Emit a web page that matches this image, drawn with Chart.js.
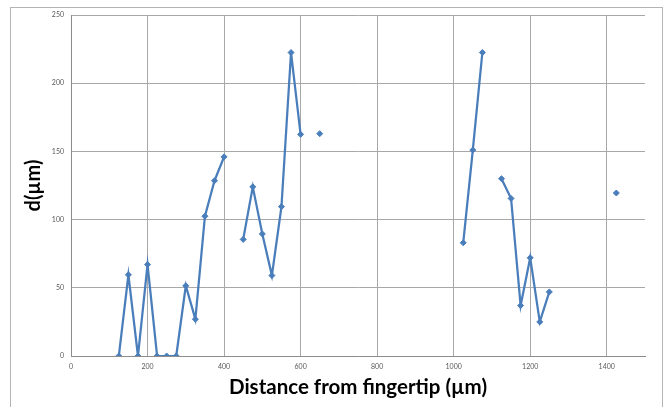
<!DOCTYPE html>
<html lang="en">
<head>
    <meta charset="UTF-8">
    <title>d vs distance from fingertip</title>
    <script src="https://cdn.jsdelivr.net/npm/chart.js"></script>
    <style>
        html, body {
            margin: 0;
            padding: 0;
            background: #ffffff;
            overflow: hidden;
        }
        .frame {
            position: absolute;
            left: 10px;
            top: 7px;
            width: 651px;
            height: 520px;
            border: 1px solid #b4b4b4;
        }
        #myChart {
            position: absolute;
            left: 0;
            top: 0;
        }
    </style>
</head>
<body>

<div class="frame"></div>
<canvas id="myChart" width="670" height="407"></canvas>

<script>
    // distance from fingertip (µm) and measured d (µm); null = gap in the line
    const distances = [125, 150, 175, 200, 225, 250, 275, 300, 325, 350, 375, 400,
        425, 450, 475, 500, 525, 550, 575, 600, 625, 650, 675,
        1025, 1050, 1075, 1100, 1125, 1150, 1175, 1200, 1225, 1250, 1275, 1425];
    const dValues = [0, 59.5, 0, 67, 0, 0, 0, 51.5, 27, 102.5, 128.5, 146,
        null, 85.5, 124, 89.5, 59, 109.5, 222.5, 162.5, null, 163, null,
        83, 151, 222.5, null, 130, 115.5, 37, 72, 25, 47, null, 119.5];

    const xTicks = [0, 200, 400, 600, 800, 1000, 1200, 1400];
    const yTicks = [0, 50, 100, 150, 200, 250];

    const points = distances.map((x, i) => ({ x: x, y: dValues[i] }));

    const tickFont = { family: 'Lato', size: 7 };

    const config = {
        type: 'scatter',
        data: {
            datasets: [{
                data: points,
                showLine: true,
                spanGaps: false,
                borderColor: '#4a7ebb',
                borderWidth: 2.25,
                pointStyle: 'rectRot',
                pointRadius: 3,
                pointBackgroundColor: '#4a7ebb',
                pointBorderColor: '#4a7ebb',
                pointBorderWidth: 1
            }]
        },
        options: {
            responsive: false,
            animation: false,
            layout: { padding: { left: 0, right: 25, top: 15, bottom: 0 } },
            plugins: {
                legend: { display: false },
                tooltip: { enabled: false }
            },
            scales: {
                x: {
                    type: 'linear',
                    min: 0,
                    max: 1500,
                    afterBuildTicks: axis => { axis.ticks = xTicks.map(v => ({ value: v })); },
                    afterFit: scale => { scale.height = 51; },
                    ticks: {
                        font: tickFont, color: '#595959', padding: 7, maxRotation: 0,
                        callback: value => String(value)
                    },
                    grid: { color: '#a8a8a8', drawTicks: false },
                    border: { color: '#8c8c8c' },
                    title: {
                        display: true,
                        text: 'Distance from fingertip (µm)',
                        font: { family: 'Lato', size: 20.5, weight: 'bold' },
                        color: '#000000',
                        padding: { top: 0, bottom: 7 }
                    }
                },
                y: {
                    min: 0,
                    max: 250,
                    afterBuildTicks: axis => { axis.ticks = yTicks.map(v => ({ value: v })); },
                    afterFit: scale => { scale.width = 71; },
                    ticks: {
                        font: tickFont, color: '#595959', padding: 7,
                        callback: value => String(value)
                    },
                    grid: { color: '#a8a8a8', drawTicks: false },
                    border: { color: '#8c8c8c' },
                    title: {
                        display: true,
                        text: 'd(µm)',
                        font: { family: 'Lato', size: 20, weight: 'bold' },
                        color: '#000000',
                        padding: { top: 22, bottom: 0 }
                    }
                }
            }
        }
    };

    const myChart = new Chart(document.getElementById('myChart'), config);
</script>

</body>
</html>
